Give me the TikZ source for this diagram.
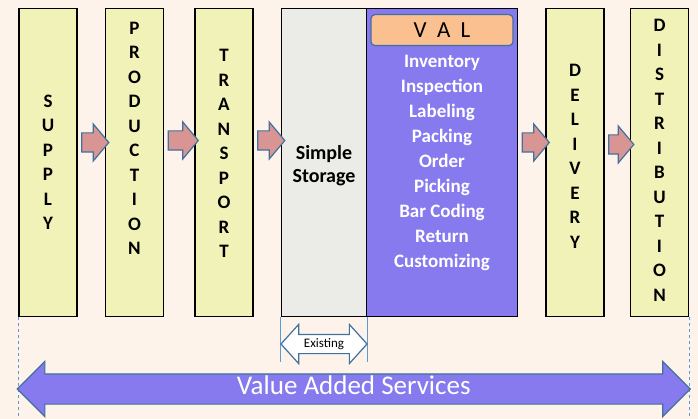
\documentclass[tikz,border=0pt]{standalone}
\usepackage{fontspec}
\setmainfont{Carlito}
\usetikzlibrary{positioning, shapes.arrows, calc}

\definecolor{paper}{HTML}{FDF3EA}
\definecolor{stagefill}{HTML}{F1F2B8}
\definecolor{storefill}{HTML}{EBEBE7}
\definecolor{valfill}{HTML}{877AEE}
\definecolor{tagfill}{HTML}{FAC090}
\definecolor{flowfill}{HTML}{D99594}
\definecolor{edgeblue}{HTML}{41719C}
\definecolor{guideblue}{HTML}{5B9BD5}

\tikzset{
  stage/.style={draw, line width=1.5pt, fill=stagefill, minimum width=58pt,
    minimum height=307.5pt, inner sep=0pt},
  letters/.style={align=center, font=\bfseries\fontsize{19}{24.5}\selectfont},
  flow/.style={single arrow, draw=edgeblue, fill=flowfill, line width=1.2pt,
    minimum height=27pt, minimum width=36pt, single arrow head extend=9pt,
    single arrow tip angle=100, inner xsep=0pt, inner ysep=9pt},
  tag/.style={draw=edgeblue, fill=tagfill, line width=1.2pt, rounded corners=4pt,
    minimum width=142pt, minimum height=31pt, inner sep=0pt,
    font=\fontsize{23}{24}\selectfont},
  span/.style={double arrow, draw=edgeblue, line width=1.2pt, inner xsep=0pt,
    double arrow tip angle=90},
  guide/.style={guideblue, line width=0.6pt}
}

\begin{document}
\begin{tikzpicture}[x=1pt, y=-1pt]
    \useasboundingbox (0,0) rectangle (698,419);
    \fill[paper] (0,0) rectangle (698,419);

    % Stages of the chain
    \node[stage] (supply) at (48,162.5) {};
    \node[stage, right=27pt of supply] (production) {};
    \node[stage, right=30pt of production] (transport) {};
    \node[stage, fill=storefill, minimum width=85pt, right=27pt of transport] (storage) {};
    \node[stage, fill=valfill, minimum width=151pt, right=-1.5pt of storage] (val) {};
    \node[stage, right=27pt of val] (delivery) {};
    \node[stage, right=25pt of delivery] (distribution) {};

    % Stage names
    \node[letters] (supplytxt) at (supply) {S\\U\\P\\P\\L\\Y};
    \node[letters, yshift=24pt] (productiontxt) at (production) {P\\R\\O\\D\\U\\C\\T\\I\\O\\N};
    \node[letters, yshift=9pt] (transporttxt) at (transport) {T\\R\\A\\N\\S\\P\\O\\R\\T};
    \node[letters, align=center, font=\bfseries\fontsize{20}{23}\selectfont, yshift=-3pt] (storagetxt) at (storage) {Simple\\Storage};
    \node[letters, yshift=6pt] (deliverytxt) at (delivery) {D\\E\\L\\I\\V\\E\\R\\Y};
    \node[letters, yshift=2pt] (distributiontxt) at (distribution) {D\\I\\S\\T\\R\\I\\B\\U\\T\\I\\O\\N};

    % VAL block
    \node[tag, below=6pt of val.north] (valtag) {V\hspace{0.45em}A\hspace{0.45em}L};
    \node[letters, text=white, font=\bfseries\fontsize{19}{25}\selectfont] (valitems) at (val)
      {Inventory\\Inspection\\Labeling\\Packing\\Order\\Picking\\Bar Coding\\Return\\Customizing};

    % Flow arrows between stages
    \node[flow, yshift=20pt] (f1) at ($(supply.east)!.5!(production.west)$) {};
    \node[flow, minimum height=30pt, yshift=22pt] (f2) at ($(production.east)!.5!(transport.west)$) {};
    \node[flow, yshift=22pt] (f3) at ($(transport.east)!.5!(storage.west)$) {};
    \node[flow, yshift=20pt] (f4) at ($(val.east)!.5!(delivery.west)$) {};
    \node[flow, minimum height=25pt, yshift=18pt] (f5) at ($(delivery.east)!.5!(distribution.west)$) {};

    % Guide lines under the stages
    \draw[guide, dashed] (supply.south west) -- (supply.south west |- 0,419);
    \draw[guide, dashed] (distribution.south east) -- (distribution.south east |- 0,419);
    \draw[guide] (storage.south west) -- (storage.south west |- 0,362);
    \draw[guide] (storage.south east) -- (storage.south east |- 0,362);

    % Spans
    \node[span, fill=white, minimum height=86pt, minimum width=38pt,
      text height=9pt, text depth=3pt, inner ysep=3pt,
      double arrow head extend=10pt, double arrow tip angle=96,
      font=\fontsize{13}{14}\selectfont] (existing) at ($(storage.south)+(0,27)$) {Existing};
    \node[span, fill=valfill, text=white, minimum height=673pt, minimum width=54pt,
      text height=20pt, text depth=9pt, inner ysep=0pt,
      double arrow head extend=12.5pt, font=\fontsize{27}{28}\selectfont] (vas)
      at ($(supply.south west)!.5!(distribution.south east)+(0,72)$) {Value Added Services};
\end{tikzpicture}
\end{document}
